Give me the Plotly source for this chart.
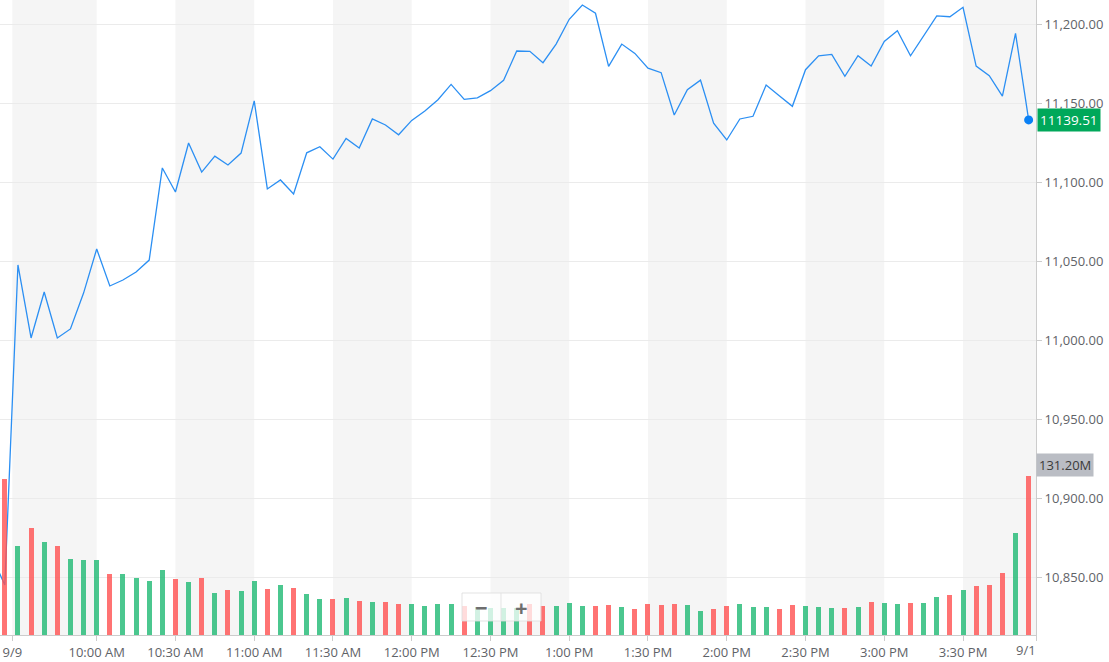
import pandas as pd
import plotly.graph_objects as go

# ---------------- data ----------------
times = pd.date_range("2020-09-09 09:25", periods=79, freq="5min")
prior_time = times[0] - pd.Timedelta(minutes=5)
prior_price = 10863.5

price = [
    10845.1, 11047.7, 11001.5, 11030.6, 11001.5, 11007.2, 11029.9, 11057.8, 11034.4, 11038.2,
    11043.2, 11050.8, 11109.1, 11093.9, 11124.9, 11106.5, 11116.6, 11111.0, 11118.5, 11151.5,
    11095.8, 11101.5, 11092.6, 11118.7, 11122.5, 11114.7, 11127.8, 11121.7, 11140.1, 11136.3,
    11130.1, 11139.2, 11145.1, 11152.3, 11162.0, 11152.5, 11153.5, 11158.0, 11164.6, 11183.1,
    11182.9, 11175.7, 11187.5, 11203.2, 11212.2, 11207.0, 11173.4, 11187.5, 11181.6, 11172.3,
    11169.4, 11142.6, 11158.6, 11164.7, 11137.5, 11126.8, 11140.1, 11141.8, 11161.6, 11154.8,
    11148.1, 11171.3, 11180.1, 11181.0, 11167.1, 11180.1, 11173.6, 11189.2, 11196.0, 11180.1,
    11192.8, 11205.3, 11204.8, 11210.8, 11173.6, 11167.5, 11154.6, 11194.3, 11139.51,
]

volume_m = [
    128.2, 73.3, 88.4, 76.8, 73.3, 62.8, 61.8, 61.8, 50.5, 50.5,
    47.2, 44.7, 53.8, 46.4, 43.9, 47.2, 34.8, 37.3, 36.5, 44.7,
    38.1, 41.4, 39.0, 34.0, 29.9, 29.9, 30.7, 28.2, 27.4, 27.4,
    25.8, 25.8, 24.1, 25.8, 25.8, 24.1, 23.3, 22.2, 22.2, 22.2,
    25.5, 24.1, 24.1, 26.6, 24.1, 24.1, 25.0, 23.3, 21.7, 25.8,
    25.0, 25.8, 25.0, 20.0, 21.7, 24.1, 25.8, 23.3, 23.3, 21.7,
    25.0, 24.1, 23.3, 22.5, 22.5, 23.3, 27.4, 26.6, 25.8, 26.6,
    26.6, 31.5, 33.2, 37.3, 40.6, 41.4, 51.3, 84.3, 131.2,
]

tick_labels = ["9/9", "10:00 AM", "10:30 AM", "11:00 AM", "11:30 AM", "12:00 PM", "12:30 PM",
               "1:00 PM", "1:30 PM", "2:00 PM", "2:30 PM", "3:00 PM", "3:30 PM", ""]
tick_times = ["2020-09-09 09:27:52", "2020-09-09 10:00", "2020-09-09 10:30", "2020-09-09 11:00",
              "2020-09-09 11:30", "2020-09-09 12:00", "2020-09-09 12:30", "2020-09-09 13:00",
              "2020-09-09 13:30", "2020-09-09 14:00", "2020-09-09 14:30", "2020-09-09 15:00",
              "2020-09-09 15:30", "2020-09-09 15:57:48"]
price_ticks = [10850, 10900, 10950, 11000, 11050, 11100, 11150, 11200]

x_range = ["2020-09-09 09:23:10", "2020-09-09 15:57:48"]
y_range = [10813.5, 11215.4]
last_volume_label = "131.20M"

# ---------------- styling ----------------
UP = "rgba(30,185,115,0.8)"
DOWN = "rgba(255,80,80,0.8)"
LINE = "#2b8ff3"
TXT = "#5f6368"
FONT = "Open Sans"

prev = [prior_price] + price[:-1]
bar_colors = [UP if p >= q else DOWN for p, q in zip(price, prev)]

fig = go.Figure()

# alternating session bands
band_pairs = [(tick_times[i], tick_times[i + 1]) for i in range(0, len(tick_times) - 1, 2)]
for a, b in band_pairs:
    fig.add_shape(type="rect", xref="x", yref="paper", x0=a, x1=b, y0=0, y1=1,
                  fillcolor="#f5f5f5", line_width=0, layer="below")

fig.add_trace(go.Scatter(
    x=[prior_time] + list(times), y=[prior_price] + price, mode="lines",
    line=dict(color=LINE, width=1.3), hoverinfo="skip", showlegend=False))

fig.add_trace(go.Scatter(
    x=[times[-1]], y=[price[-1]], mode="markers",
    marker=dict(color="#0a80f5", size=9), cliponaxis=False, showlegend=False))

fig.add_trace(go.Bar(
    x=times, y=volume_m, yaxis="y2", marker=dict(color=bar_colors, line_width=0),
    width=114300, showlegend=False))

plot_w = 1036
plot_h = 635

fig.update_layout(
    width=1109, height=662,
    margin=dict(l=0, r=1109 - plot_w, t=0, b=662 - plot_h),
    paper_bgcolor="white", plot_bgcolor="rgba(0,0,0,0)",
    font=dict(family=FONT, size=13, color=TXT),
    bargap=0,
    xaxis=dict(type="date", range=x_range, tickvals=tick_times, ticktext=tick_labels,
               showgrid=False, zeroline=False, showline=True, linecolor="#cccccc",
               ticks="outside", ticklen=5, tickcolor="#cccccc",
               tickfont=dict(family=FONT, size=13, color=TXT)),
    yaxis=dict(range=y_range, side="right", tickvals=price_ticks, tickformat=",.2f",
               showgrid=True, gridcolor="#ebebeb", gridwidth=1, zeroline=False,
               showline=True, linecolor="#cccccc", ticks="outside", ticklen=5,
               tickcolor="#cccccc", tickfont=dict(family=FONT, size=13, color=TXT)),
    yaxis2=dict(overlaying="y", range=[0, 131.2 / 159.3 * plot_h], visible=False),
)

# right-edge date label (clipped in the reference)
fig.add_annotation(xref="paper", yref="paper", x=1, y=-15 / plot_h, xanchor="right",
                   yanchor="middle", xshift=2, text="9/1", showarrow=False,
                   font=dict(family=FONT, size=13, color=TXT))

# last price tag
fig.add_annotation(xref="paper", yref="y", x=1, y=price[-1], xanchor="left", yanchor="middle",
                   xshift=1, text=f"{price[-1]:.2f}", showarrow=False,
                   bgcolor="#00a85a", borderpad=2,
                   font=dict(family=FONT, size=13.5, color="white"))

# last volume tag
fig.add_annotation(xref="paper", yref="paper", x=1, y=(plot_h - 465) / plot_h,
                   xanchor="left", yanchor="middle", xshift=0, text=last_volume_label,
                   showarrow=False, bgcolor="#babdc4", borderpad=2,
                   font=dict(family=FONT, size=13, color="#3a3a3a"))

# zoom control (- / +)
bx0, bx1, bmid = 462 / plot_w, 541 / plot_w, 501 / plot_w
by0, by1 = (plot_h - 621) / plot_h, (plot_h - 593) / plot_h
fig.add_shape(type="rect", xref="paper", yref="paper", x0=bx0, x1=bx1, y0=by0, y1=by1,
              fillcolor="rgba(255,255,255,0.75)", line=dict(color="rgba(220,220,220,0.8)", width=1),
              layer="above")
fig.add_shape(type="line", xref="paper", yref="paper", x0=bmid, x1=bmid, y0=by0, y1=by1,
              line=dict(color="rgba(225,225,225,0.9)", width=1), layer="above")
for cx, sym in [((462 + 501) / 2 / plot_w, "−"), ((501 + 541) / 2 / plot_w, "+")]:
    fig.add_annotation(xref="paper", yref="paper", x=cx, y=(by0 + by1) / 2, text=f"<b>{sym}</b>",
                       showarrow=False, xanchor="center", yanchor="middle",
                       font=dict(family=FONT, size=22, color="#6e6e6e"))

fig.write_html("out.html", config={"displayModeBar": False},
               post_script="document.body.style.margin='0';document.body.style.overflow='hidden';")
